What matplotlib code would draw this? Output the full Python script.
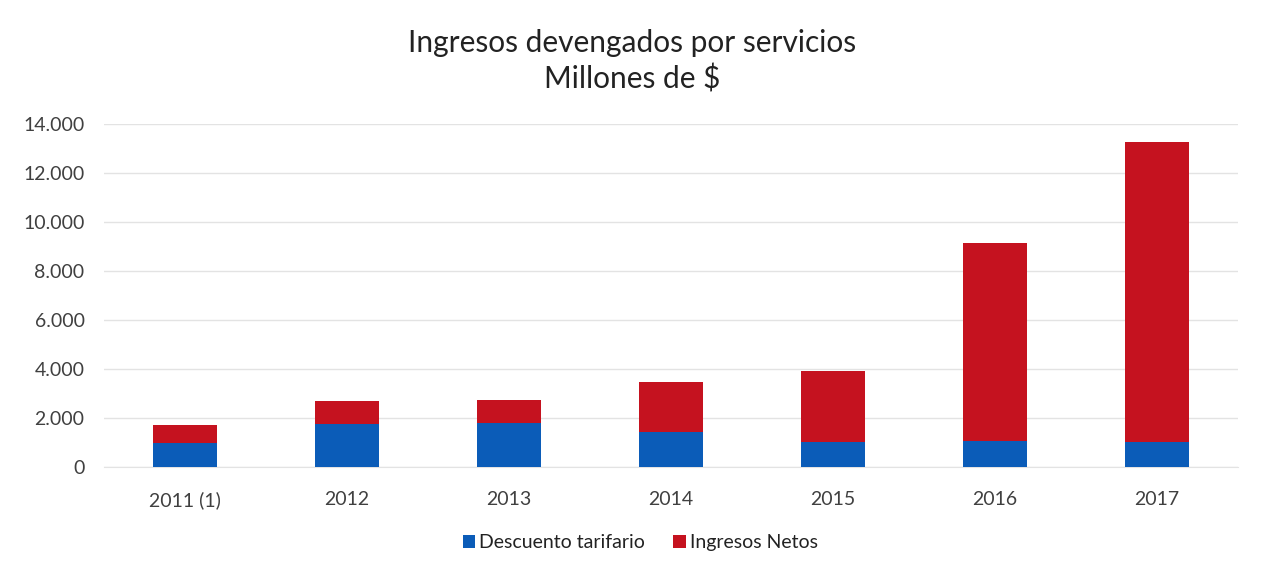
import numpy as np
import matplotlib.pyplot as plt
import matplotlib.ticker as mticker

years = ["2011 (1)", "2012", "2013", "2014", "2015", "2016", "2017"]
descuento = [1000, 1770, 1795, 1450, 1030, 1090, 1050]
totales = [1715, 2720, 2750, 3470, 3930, 9140, 13290]
netos = [t - d for t, d in zip(totales, descuento)]

plt.rcParams['font.family'] = ['Lato', 'DejaVu Sans']

fig = plt.figure(figsize=(12.65, 5.71), dpi=100)
ax = fig.add_axes([0.0822, 0.1816, 0.8965, 0.6007])

x = np.arange(len(years))
ax.bar(x, descuento, width=0.4, color='#0B5CB8', label='Descuento tarifario', zorder=3)
ax.bar(x, netos, width=0.4, bottom=descuento, color='#C5121F', label='Ingresos Netos', zorder=3)

ax.set_xlim(-0.5, len(years) - 0.5)
ax.set_ylim(0, 14000)
ax.set_yticks(np.arange(0, 14001, 2000))
ax.yaxis.set_major_formatter(mticker.FuncFormatter(lambda v, p: f"{int(v):,}".replace(",", ".")))
ax.set_xticks(x)
ax.set_xticklabels(years)
ax.tick_params(axis='both', length=0, labelsize=14, colors='#404040')
ax.tick_params(axis='y', pad=14)
ax.tick_params(axis='x', pad=17)
ax.grid(axis='y', color='#e3e3e3', linewidth=1, zorder=0)
for s in ['top', 'right', 'left']:
    ax.spines[s].set_visible(False)
ax.spines['bottom'].set_color('#e3e3e3')

fig.text(0.5, 0.893, "Ingresos devengados por servicios\nMillones de $", ha='center', va='center',
         fontsize=21.5, color='#222222', linespacing=1.3)

fig.legend(loc='center', bbox_to_anchor=(0.506, 0.05), ncol=2, frameon=False, fontsize=14,
           handlelength=0.65, handleheight=0.65, handletextpad=0.2, columnspacing=1.45,
           labelcolor='#222222')

fig.savefig("out.png", dpi=100, facecolor='white')
